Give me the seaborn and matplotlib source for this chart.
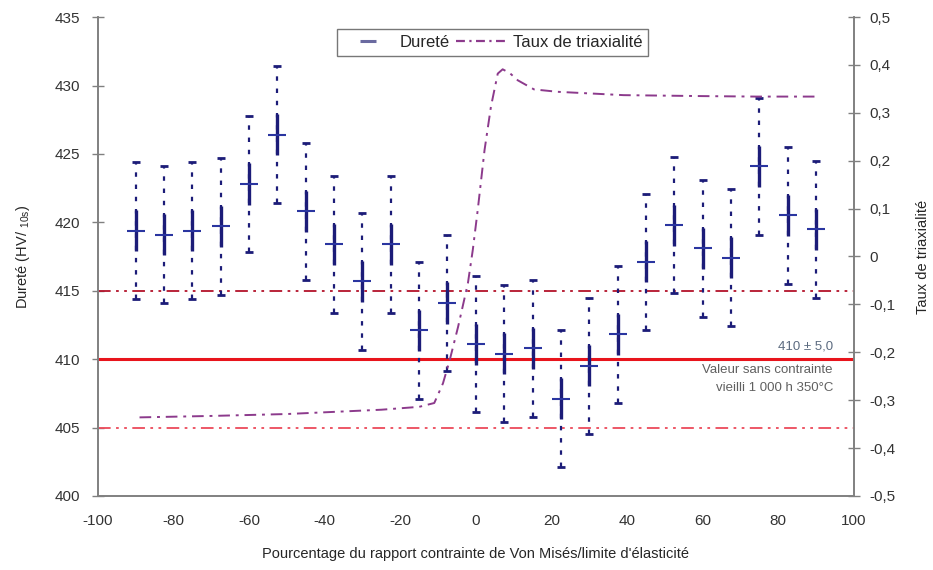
"""Dureté et taux de triaxialité en fonction du rapport contrainte / limite
d'élasticité."""
import matplotlib
matplotlib.use('Agg')
import numpy as np
import pandas as pd
import seaborn as sns
from matplotlib import pyplot as plt
from matplotlib.lines import Line2D
from matplotlib.ticker import FuncFormatter, MultipleLocator

DPI = 100
FIGURE_SIZE = (9.33, 5.70)

# hardness measurements (HV) along the stress ratio
positions = [-90, -82.5, -75, -67.5, -60, -52.5, -45, -37.5, -30, -22.5, -15,
             -7.5, 0, 7.5, 15, 22.5, 30, 37.5, 45, 52.5, 60, 67.5, 75, 82.5,
             90]
hardness = [419.4, 419.1, 419.4, 419.7, 422.8, 426.4, 420.8, 418.4, 415.7,
            418.4, 412.1, 414.1, 411.1, 410.4, 410.8, 407.1, 409.5, 411.8,
            417.1, 419.8, 418.1, 417.4, 424.1, 420.5, 419.5]
err_inner = [1.5] * 25
err_outer = [5.0] * 25

# triaxiality curve (right axis)
tri_x = [-89, -70, -50, -25, -15, -11, -8.7, -6.9, -4.7, -2.1, -0.8, 0.5,
         2.3, 4.0, 5.8, 7.1, 9.0, 11.1, 15.4, 21.6, 39.1, 60, 74.2, 90.4]
tri_y = [-0.336, -0.333, -0.329, -0.320, -0.314, -0.306, -0.265, -0.216,
         -0.147, -0.056, 0.014, 0.097, 0.222, 0.313, 0.382, 0.391, 0.383,
         0.368, 0.349, 0.344, 0.337, 0.335, 0.334, 0.334]

# reference value without stress
ref_value = 410
ref_tol = 5.0

NAVY = '#1c1c78'
PURPLE = '#8c3a8c'
GREY = '#808080'

sns.set_theme(style='white')
plt.rcParams['font.family'] = ['Liberation Sans', 'DejaVu Sans']
plt.rcParams['axes.unicode_minus'] = False


def comma(v, _pos):
    v = round(v, 1) + 0.0
    return '{:g}'.format(v).replace('.', ',')


fig = plt.figure(figsize=FIGURE_SIZE, dpi=DPI)
ax = fig.add_axes([0.105, 0.130, 0.810, 0.840])
ax2 = ax.twinx()

df = pd.DataFrame({'position': positions, 'hardness': hardness})
tri = pd.DataFrame({'x': tri_x, 'taux': tri_y})

# reference lines
ax.axhline(ref_value, color='#e8141c', lw=2.2, zorder=1)
ax.axhline(ref_value + ref_tol, color='#b3122a', lw=1.3,
           ls=(0, (7, 3, 1.5, 3, 1.5, 3)), zorder=1)
ax.axhline(ref_value - ref_tol, color='#ec4a5a', lw=1.3,
           ls=(0, (7, 3, 1.5, 3, 1.5, 3)), zorder=1)

# outer (dotted) and inner (solid) error bars
outer = ax.errorbar(positions, hardness, yerr=err_outer, fmt='none',
                    ecolor=NAVY, elinewidth=1.6, capsize=3, capthick=2,
                    zorder=3)
for lc in outer[2]:
    lc.set_linestyle((0, (2, 3.5)))
ax.errorbar(positions, hardness, yerr=err_inner, fmt='none', ecolor=NAVY,
            elinewidth=2.4, capsize=0, zorder=4)
sns.scatterplot(data=df, x='position', y='hardness', marker='_', s=170,
                color='#2a35a0', linewidth=1.5, ax=ax, zorder=5)

sns.lineplot(data=tri, x='x', y='taux', ax=ax2, color=PURPLE, lw=1.4,
             linestyle=(0, (6, 3, 1.5, 3)))

# annotation for the reference value
ax.text(94.5, 410.95, '410 ± 5,0', ha='right', va='center', fontsize=9.5,
        color='#5c6b80')
ax.text(94.5, 409.2, 'Valeur sans contrainte', ha='right', va='center',
        fontsize=9.5, color='#606060')
ax.text(94.5, 407.9, 'vieilli 1 000 h 350°C', ha='right', va='center',
        fontsize=9.5, color='#606060')

ax.set_xlim(-100, 100)
ax.set_ylim(400, 435)
ax2.set_ylim(-0.5, 0.5)
ax.xaxis.set_major_locator(MultipleLocator(20))
ax.yaxis.set_major_locator(MultipleLocator(5))
ax2.yaxis.set_major_locator(MultipleLocator(0.1))
ax2.yaxis.set_major_formatter(FuncFormatter(comma))

ax.set_xlabel("Pourcentage du rapport contrainte de Von Misés/limite "
              "d'élasticité", fontsize=10.5, labelpad=14)
ax.set_ylabel('Dureté (HV/ $_{\\mathregular{10s}}$)', fontsize=10.5,
              labelpad=16)
ax2.set_ylabel('Taux de triaxialité', fontsize=10.5, labelpad=15)

for a in (ax, ax2):
    a.spines['top'].set_visible(False)
    for side in ('left', 'right', 'bottom'):
        a.spines[side].set_color(GREY)
        a.spines[side].set_linewidth(1.2)
    a.tick_params(direction='inout', length=8, width=1, color=GREY,
                  labelsize=11, labelcolor='#333333', pad=5)
ax.tick_params(axis='x', pad=9)
ax.tick_params(axis='y', pad=9)
ax2.tick_params(axis='y', pad=7)

handles = [Line2D([], [], color='#6a6aa0', marker='_', markersize=11,
                  markeredgewidth=2.2, ls='none'),
           Line2D([], [], color=PURPLE, lw=1.6,
                  ls=(0, (4, 2, 1, 2)))]
leg = ax.legend(handles, ['Dureté', 'Taux de triaxialité'], ncol=2,
                loc='upper center', bbox_to_anchor=(0.522, 0.982),
                frameon=True, fancybox=False, fontsize=12,
                handlelength=3.0, columnspacing=0.4, handletextpad=0.4,
                borderpad=0.35, borderaxespad=0.2)
leg.get_frame().set_edgecolor('#555555')
leg.get_frame().set_linewidth(1.0)
leg.set_zorder(10)

fig.savefig('out.png', dpi=DPI)
